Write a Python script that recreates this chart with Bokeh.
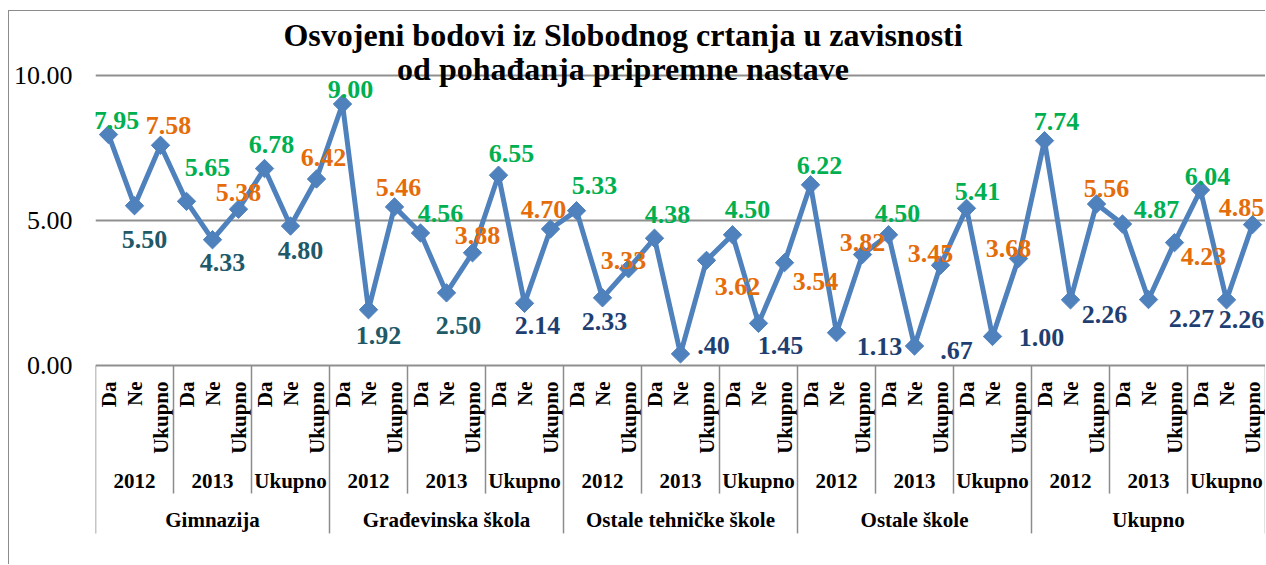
import math
from bokeh.plotting import figure
from bokeh.models import (ColumnDataSource, FactorRange, Range1d, FixedTicker,
                          PrintfTickFormatter, LabelSet, Label)
from bokeh.core.properties import value
from bokeh.embed import file_html
from bokeh.resources import INLINE

# ---------------- data ----------------
groups = ["Gimnazija", "Građevinska škola", "Ostale tehničke škole", "Ostale škole", "Ukupno"]
years = ["2012", "2013", "Ukupno"]
kinds = ["Da", "Ne", "Ukupno"]

gimnazija = [7.95, 5.50, 7.58, 5.65, 4.33, 5.38, 6.78, 4.80, 6.42]
gradjevinska = [9.00, 1.92, 5.46, 4.56, 2.50, 3.88, 6.55, 2.14, 4.70]
ostale_tehnicke = [5.33, 2.33, 3.33, 4.38, 0.40, 3.62, 4.50, 1.45, 3.54]
ostale_skole = [6.22, 1.13, 3.82, 4.50, 0.67, 3.45, 5.41, 1.00, 3.68]
ukupno = [7.74, 2.26, 5.56, 4.87, 2.27, 4.23, 6.04, 2.26, 4.85]

y_ticks = [0, 5, 10]
title_lines = ["Osvojeni bodovi iz Slobodnog crtanja u zavisnosti",
               "od pohađanja pripremne nastave"]

# ---------------- styles ----------------
LINE_BLUE = "#4F81BD"
GREEN = "#00B050"
ORANGE = "#E46C0A"
TEAL = "#215968"
NAVY = "#1F3F73"
GRID = "#8f8f8f"
FONT = "Liberation Serif"

ne_colors = [TEAL] * 5 + [NAVY] * 10
# label offsets in screen pixels (dx right, dy down), one per point
label_dx = [8, 10, 8, 21, 10, 0, 7, 10, 7,
            8, 10, 4, 20, 12, 5, 13, 13, -7,
            18, 2, -5, 13, 33, 31, 15, 22, 31,
            9, 43, 0, 9, 42, -10, 11, 49, -10,
            12, 34, 10, 34, 43, 29, 7, 15, -11]
label_dy = [-14, 34, -20, -34, 23, -17, -24, 24, -21,
            -15, 26, -19, -20, 33, -17, -22, 22, -19,
            -25, 24, -8, -24, -8, 26, -25, 22, 19,
            -19, 14, -12, -21, 4, -12, -17, 1, -10,
            -19, 15, -15, -15, 19, 14, -14, 20, -17]

series = [gimnazija, gradjevinska, ostale_tehnicke, ostale_skole, ukupno]
factors = [(g, y, k) for g in groups for y in years for k in kinds]
values = [v for s in series for v in s]


def fmt(v):
    s = f"{v:.2f}"
    return s[1:] if s.startswith("0") else s


labels = [fmt(v) for v in values]
colors = []
ne_i = 0
for (_, _, k) in factors:
    if k == "Da":
        colors.append(GREEN)
    elif k == "Ne":
        colors.append(ne_colors[ne_i])
        ne_i += 1
    else:
        colors.append(ORANGE)

# ---------------- layout constants (data units of the value axis) ----------------
Y_START, Y_END = -6.885, 12.186
KIND_TOP = -0.55
YEAR_Y = -3.96
GROUP_Y = -5.32
SUB_SEP_BOTTOM = -4.41
GROUP_SEP_BOTTOM = -5.78
TITLE_X = 20.29
TITLE_Y = [11.39, 10.22]

p = figure(width=1257, height=554,
           x_range=FactorRange(factors=factors, factor_padding=0, subgroup_padding=0,
                               group_padding=0, range_padding=0),
           y_range=Range1d(Y_START, Y_END),
           x_axis_location=None,
           output_backend="svg", toolbar_location=None,
           min_border_left=86, min_border_right=1, min_border_top=0, min_border_bottom=0)
p.styles = {"margin-left": "8px", "margin-top": "10px",
            "border-left": "1px solid #8c8c8c", "border-top": "1px solid #8c8c8c"}
p.outline_line_color = None
p.background_fill_color = "white"
p.border_fill_color = "white"

ticker = FixedTicker(ticks=y_ticks)
p.yaxis.ticker = ticker
p.ygrid.ticker = ticker
p.yaxis.formatter = PrintfTickFormatter(format="%.2f")
p.yaxis.axis_line_color = None
p.yaxis.major_tick_line_color = None
p.yaxis.minor_tick_line_color = None
p.yaxis.major_tick_out = 0
p.yaxis.major_tick_in = 0
p.yaxis.major_label_standoff = 23
p.yaxis.major_label_text_font = FONT
p.yaxis.major_label_text_font_size = "26px"
p.yaxis.major_label_text_color = "black"
p.ygrid.grid_line_color = GRID
p.ygrid.grid_line_width = 2
p.xgrid.visible = False

src = ColumnDataSource(dict(x=factors, y=values, label=labels, color=colors,
                            dx=label_dx, dy=[-d for d in label_dy]))
p.line("x", "y", source=src, line_color=LINE_BLUE, line_width=5, line_join="round")
p.scatter("x", "y", source=src, marker="square", angle=math.pi / 4, size=13,
          fill_color=LINE_BLUE, line_color=LINE_BLUE)

p.add_layout(LabelSet(x="x", y="y", text="label", source=src,
                      x_offset="dx", y_offset="dy",
                      text_align="center", text_baseline="middle",
                      text_color="color", text_font=value(FONT),
                      text_font_size=value("26px"), text_font_style="bold"))

# ---------------- category table below the plot ----------------
p.text(x=factors, y=[KIND_TOP] * len(factors), text=[k for (_, _, k) in factors],
       angle=math.pi / 2, text_align="right", text_baseline="middle",
       text_font=value(FONT), text_font_size=value("21px"), text_font_style=value("bold"),
       text_color="black")

year_x = [(g, y) for g in groups for y in years]
p.text(x=year_x, y=[YEAR_Y] * len(year_x), text=[y for (_, y) in year_x],
       text_align="center", text_baseline="middle",
       text_font=value(FONT), text_font_size=value("21px"), text_font_style=value("bold"),
       text_color="black")

p.text(x=groups, y=[GROUP_Y] * len(groups), text=groups,
       text_align="center", text_baseline="middle",
       text_font=value(FONT), text_font_size=value("21px"), text_font_style=value("bold"),
       text_color="black")

sep_x = [(g, y, kinds[0], -0.5) for g in groups for y in years] + \
        [(groups[-1], years[-1], kinds[-1], 0.5)]
sep_bottom = [GROUP_SEP_BOTTOM if y == years[0] else SUB_SEP_BOTTOM
              for g in groups for y in years] + [GROUP_SEP_BOTTOM]
p.segment(x0=sep_x, y0=[0] * len(sep_x), x1=sep_x, y1=sep_bottom,
          line_color="#8c8c8c", line_width=1.5)

# ---------------- title ----------------
for txt, ty in zip(title_lines, TITLE_Y):
    p.add_layout(Label(x=TITLE_X, y=ty, text=txt, text_align="center",
                       text_baseline="alphabetic", text_font=FONT,
                       text_font_style="bold", text_font_size="32px",
                       text_color="black"))

open("out.html", "w").write(file_html(p, INLINE))
